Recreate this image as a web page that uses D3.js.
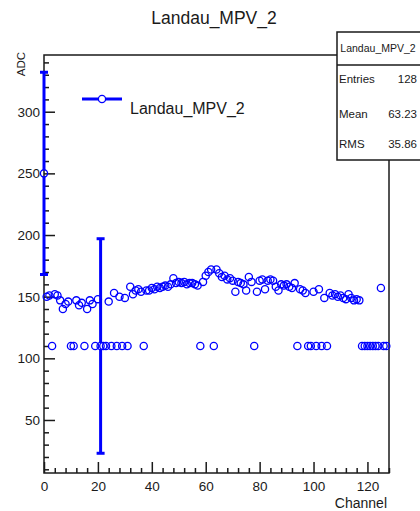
<!DOCTYPE html>
<html>
<head>
<meta charset="utf-8">
<script src="https://cdn.jsdelivr.net/npm/d3@7/dist/d3.min.js"></script>
<style>
  html, body { margin: 0; padding: 0; background: #fff; }
  svg { display: block; }
  text { font-family: "Liberation Sans", Arial, Helvetica, sans-serif; fill: #1a1a1a; }
</style>
</head>
<body>
<svg id="chart" width="420" height="511"></svg>
<script>
// ---- data ----
const channels = [
  0,1,2,3,4,5,6,7,8,9,10,11,12,13,14,15,16,17,18,19,20,21,22,23,24,25,26,27,28,29,30,31,
  32,33,34,35,36,37,38,39,40,41,42,43,44,45,46,47,48,49,50,51,52,53,54,55,56,57,58,59,60,61,62,63,
  64,65,66,67,68,69,70,71,72,73,74,75,76,77,78,79,80,81,82,83,84,85,86,87,88,89,90,91,92,93,94,95,
  96,97,98,99,100,101,102,103,104,105,106,107,108,109,110,111,112,113,114,115,116,117,118,119,120,121,122,123,124,125,126,127
];
const adc = [
  250,150,151,110,152,151,147,140,144,146,110,110,147,143,145,110,140,147,144,110,148,110,110,110,146,110,153,110,150,110,149,110,
  158,152,155,156,154,110,155,155,157,156,158,157,158,159,158,160,165,161,162,161,162,160,161,161,160,159,110,162,167,170,172,110,
  172,169,166,167,164,165,163,154,162,161,160,155,166,162,110,154,163,164,156,163,164,163,158,155,160,159,160,158,157,161,110,156,
  155,153,110,110,154,110,156,110,149,110,153,151,152,150,151,149,148,152,149,147,148,147,110,110,110,110,110,110,110,157,110,110
];
// only these points have error bars larger than the marker
const errChannels = [0, 21];
const errValues = [82, 87];

const xTickValues = [0, 20, 40, 60, 80, 100, 120];
const yTickValues = [50, 100, 150, 200, 250, 300];
const title = "Landau_MPV_2";
const xTitle = "Channel";
const yTitle = "ADC";
const statsLabels = ["Entries", "Mean", "RMS"];
const statsValues = ["128", "63.23", "35.86"];

// ---- layout ----
const svg = d3.select("#chart");
const X0 = 44, X1 = 389, Y0 = 55, Y1 = 473;
const blue = "#0000ff";
const ink = "#1a1a1a";

const x = d3.scaleLinear().domain([0, 128]).range([X0, X1]);
const y = d3.scaleLinear().domain([7, 346]).range([Y1, Y0]);

// title
svg.append("text").attr("x", 214).attr("y", 24).attr("text-anchor", "middle")
  .style("font-size", "17.5px").text(title);

// frame
svg.append("rect").attr("x", X0).attr("y", Y0).attr("width", X1 - X0).attr("height", Y1 - Y0)
  .attr("fill", "none").attr("stroke", ink).attr("stroke-width", 1.5);

// axes
const xMinor = d3.range(0, 129, 4).filter(v => v % 20 !== 0);
const yMinor = d3.range(10, 346, 10).filter(v => v % 50 !== 0);

const gx = svg.append("g").attr("transform", `translate(0,${Y1})`)
  .call(d3.axisBottom(x).tickValues(xTickValues).tickSizeInner(-11).tickSizeOuter(0).tickPadding(8).tickFormat(d3.format("d")));
svg.append("g").attr("transform", `translate(0,${Y1})`)
  .call(d3.axisBottom(x).tickValues(xMinor).tickSizeInner(-5).tickSizeOuter(0).tickFormat(""));
const gy = svg.append("g").attr("transform", `translate(${X0},0)`)
  .call(d3.axisLeft(y).tickValues(yTickValues).tickSizeInner(-11).tickSizeOuter(0).tickPadding(4).tickFormat(d3.format("d")));
svg.append("g").attr("transform", `translate(${X0},0)`)
  .call(d3.axisLeft(y).tickValues(yMinor).tickSizeInner(-5).tickSizeOuter(0).tickFormat(""));

svg.selectAll(".domain").remove();
svg.selectAll(".tick line").attr("stroke", ink).attr("stroke-width", 1.5);
svg.selectAll(".tick text").style("font-size", "13.5px").attr("fill", ink);

// axis titles
svg.append("text").attr("x", 387).attr("y", 508).attr("text-anchor", "end")
  .style("font-size", "14px").text(xTitle);
svg.append("text").attr("transform", "translate(25,52) rotate(-90)").attr("text-anchor", "end")
  .style("font-size", "11.5px").text(yTitle);

// graph
const pts = channels.map((c, i) => ({ c, v: adc[i] }));
const errs = errChannels.map((c, i) => ({ c, v: adc[channels.indexOf(c)], e: errValues[i] }));
const r = 3.6;

const ge = svg.append("g");
errs.forEach(d => {
  const cx = x(d.c), cy = y(d.v);
  ge.append("line").attr("x1", cx).attr("x2", cx).attr("y1", y(d.v + d.e)).attr("y2", cy - r)
    .attr("stroke", blue).attr("stroke-width", 3);
  ge.append("line").attr("x1", cx).attr("x2", cx).attr("y1", cy + r).attr("y2", y(d.v - d.e))
    .attr("stroke", blue).attr("stroke-width", 3);
  [d.v + d.e, d.v - d.e].forEach(v => {
    ge.append("line").attr("x1", cx - 4).attr("x2", cx + 4).attr("y1", y(v)).attr("y2", y(v))
      .attr("stroke", blue).attr("stroke-width", 3);
  });
});

svg.append("g").selectAll("circle").data(pts).join("circle")
  .attr("cx", d => x(d.c)).attr("cy", d => y(d.v)).attr("r", r)
  .attr("fill", "none").attr("stroke", blue).attr("stroke-width", 1.3);

// legend
svg.append("line").attr("x1", 82).attr("x2", 122).attr("y1", 99).attr("y2", 99)
  .attr("stroke", blue).attr("stroke-width", 3);
svg.append("circle").attr("cx", 102).attr("cy", 99).attr("r", r)
  .attr("fill", "#fff").attr("stroke", blue).attr("stroke-width", 1.3);
svg.append("text").attr("x", 130).attr("y", 113.5).style("font-size", "16px").text(title);

// stats box
const sb = svg.append("g");
sb.append("rect").attr("x", 337).attr("y", 32).attr("width", 90).attr("height", 128)
  .attr("fill", "#fff").attr("stroke", ink).attr("stroke-width", 1.5);
sb.append("line").attr("x1", 337).attr("x2", 420).attr("y1", 65).attr("y2", 65)
  .attr("stroke", ink).attr("stroke-width", 1.5);
sb.append("text").attr("x", 378).attr("y", 52).attr("text-anchor", "middle")
  .style("font-size", "10.5px").text(title);
const rowY = [83, 118, 148];
statsLabels.forEach((l, i) => {
  sb.append("text").attr("x", 339).attr("y", rowY[i]).style("font-size", "11.5px").text(l);
  sb.append("text").attr("x", 417).attr("y", rowY[i]).attr("text-anchor", "end")
    .style("font-size", "11.5px").text(statsValues[i]);
});
</script>
</body>
</html>
